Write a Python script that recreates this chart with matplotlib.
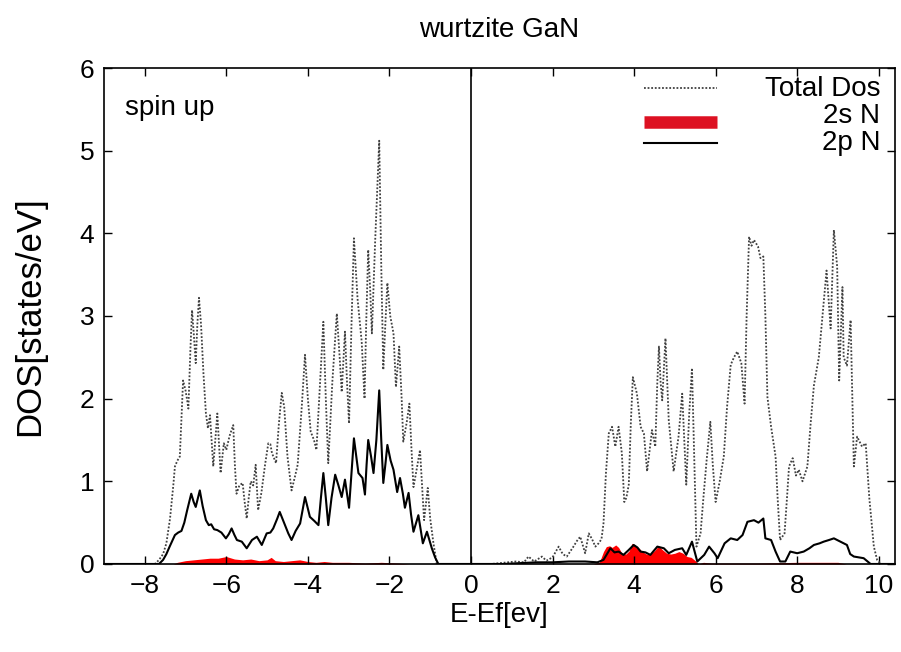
import matplotlib
matplotlib.use("Agg")
import matplotlib.pyplot as plt

plt.rcParams['font.family'] = ['Liberation Sans', 'DejaVu Sans']

# total DOS (energy in eV, states/eV)
e_total = [-9.0, -7.75, -7.65, -7.55, -7.47, -7.38, -7.30, -7.26, -7.20, -7.14,
           -7.10, -7.06, -7.00, -6.96, -6.93, -6.88, -6.84, -6.80, -6.75, -6.71,
           -6.67, -6.62, -6.56, -6.50, -6.45, -6.40, -6.36, -6.32, -6.27, -6.22,
           -6.18, -6.14, -6.06, -6.00, -5.92, -5.83, -5.79, -5.75, -5.68, -5.60,
           -5.55, -5.50, -5.45, -5.40, -5.34, -5.28, -5.22, -5.14, -5.05, -4.97,
           -4.92, -4.88, -4.78, -4.71, -4.64, -4.58, -4.50, -4.40, -4.32, -4.25,
           -4.15, -4.07, -4.00, -3.93, -3.85, -3.79, -3.70, -3.62, -3.56, -3.50,
           -3.40, -3.29, -3.22, -3.17, -3.09, -3.04, -2.99, -2.93, -2.87, -2.78,
           -2.68, -2.61, -2.57, -2.52, -2.47, -2.43, -2.35, -2.25, -2.20, -2.15,
           -2.10, -2.05, -1.98, -1.90, -1.84, -1.76, -1.70, -1.66, -1.58, -1.51,
           -1.46, -1.41, -1.33, -1.25, -1.20, -1.15, -1.06, -1.00, -0.92, -0.84,
           0.0, 0.5, 0.9, 1.1, 1.3, 1.41, 1.55, 1.74, 1.85, 2.0,
           2.15, 2.25, 2.35, 2.5, 2.6, 2.68, 2.80, 2.89, 2.97, 3.05,
           3.13, 3.20, 3.25, 3.31, 3.38, 3.46, 3.54, 3.62, 3.70, 3.76,
           3.81, 3.87, 3.92, 3.97, 4.07, 4.16, 4.24, 4.32, 4.44, 4.52,
           4.57, 4.61, 4.65, 4.69, 4.77, 4.85, 4.97, 5.09, 5.18, 5.28,
           5.35, 5.42, 5.48, 5.53, 5.63, 5.70, 5.78, 5.87, 5.93, 6.00,
           6.10, 6.20, 6.28, 6.37, 6.45, 6.53, 6.63, 6.71, 6.76, 6.82,
           6.88, 6.94, 7.04, 7.10, 7.17, 7.22, 7.27, 7.36, 7.47, 7.52,
           7.58, 7.69, 7.75, 7.80, 7.89, 7.97, 8.04, 8.13, 8.25, 8.33,
           8.41, 8.53, 8.62, 8.72, 8.77, 8.82, 8.90, 8.98, 9.03, 9.11,
           9.14, 9.22, 9.31, 9.39, 9.47, 9.59, 9.68, 9.77, 9.88, 9.96,
           10.05, 10.4]
dos_total = [0.0, 0.0, 0.05, 0.12, 0.25, 0.55, 0.95, 1.18, 1.25, 1.30,
             1.75, 2.22, 2.10, 1.98, 1.88, 2.6, 3.07, 2.8, 2.43, 2.9,
             3.22, 2.9, 2.3, 1.82, 1.64, 1.80, 1.5, 1.18, 1.5, 1.82,
             1.45, 1.10, 1.46, 1.38, 1.55, 1.68, 1.2, 0.85, 0.95, 0.98,
             0.75, 0.55, 0.8, 1.00, 0.95, 1.20, 0.65, 0.86, 1.2, 1.46,
             1.45, 1.34, 1.22, 1.7, 2.07, 1.9, 1.3, 0.89, 1.05, 1.2,
             1.9, 2.53, 2.0, 1.6, 1.5, 1.38, 2.2, 2.93, 2.0, 1.22,
             2.2, 3.03, 2.5, 2.08, 2.81, 2.2, 1.70, 2.9, 3.94, 3.2,
             2.69, 2.00, 2.9, 3.80, 3.3, 2.79, 3.9, 5.12, 3.6, 2.35,
             2.9, 3.40, 3.0, 2.79, 2.14, 2.63, 2.0, 1.48, 1.7, 1.94,
             1.4, 0.93, 1.15, 1.38, 0.95, 0.53, 0.92, 0.55, 0.25, 0.0,
             0.0, 0.0, 0.02, 0.03, 0.02, 0.09, 0.03, 0.09, 0.04, 0.08,
             0.21, 0.12, 0.09, 0.2, 0.28, 0.33, 0.13, 0.37, 0.3, 0.21,
             0.25, 0.3, 0.49, 1.1, 1.58, 1.66, 1.42, 1.66, 1.34, 0.75,
             0.8, 0.96, 1.7, 2.26, 2.06, 1.66, 1.58, 1.12, 1.62, 1.42,
             2.2, 2.63, 2.2, 1.98, 2.73, 1.74, 1.12, 1.54, 2.06, 0.96,
             1.8, 2.37, 1.2, 0.21, 0.37, 0.8, 1.26, 1.72, 1.2, 0.75,
             1.0, 1.30, 1.9, 2.41, 2.5, 2.57, 2.43, 1.94, 3.0, 3.96,
             3.85, 3.92, 3.84, 3.7, 3.72, 3.0, 2.02, 1.66, 1.30, 0.8,
             0.29, 0.37, 0.8, 1.18, 1.28, 1.07, 1.14, 1.00, 1.18, 1.7,
             2.16, 2.5, 3.0, 3.55, 3.2, 2.85, 4.04, 3.6, 2.22, 3.35,
             2.5, 2.4, 2.95, 1.18, 1.54, 1.42, 1.46, 0.79, 0.21, 0.05,
             0.0, 0.0]

# N 2p partial DOS
e_2p = [-9.0, -7.65, -7.55, -7.47, -7.39, -7.26, -7.18, -7.10, -7.03, -6.96,
        -6.86, -6.80, -6.75, -6.65, -6.58, -6.50, -6.43, -6.37, -6.30, -6.22,
        -6.12, -6.01, -5.94, -5.87, -5.80, -5.74, -5.62, -5.50, -5.37, -5.25,
        -5.13, -5.01, -4.92, -4.85, -4.75, -4.69, -4.57, -4.48, -4.40, -4.30,
        -4.19, -4.07, -3.95, -3.84, -3.74, -3.68, -3.62, -3.56, -3.50, -3.42,
        -3.33, -3.25, -3.17, -3.09, -3.04, -2.99, -2.93, -2.87, -2.80, -2.76,
        -2.66, -2.60, -2.56, -2.52, -2.45, -2.39, -2.32, -2.25, -2.20, -2.15,
        -2.10, -2.05, -1.97, -1.90, -1.81, -1.74, -1.67, -1.62, -1.53, -1.47,
        -1.41, -1.29, -1.18, -1.08, -0.96, -0.88, -0.80,
        0.0, 0.8, 1.2, 1.6, 2.0, 2.4, 2.8, 3.1, 3.25, 3.42,
        3.52, 3.62, 3.74, 3.87, 3.99, 4.08, 4.16, 4.28, 4.40, 4.57,
        4.73, 4.85, 5.0, 5.18, 5.28, 5.42, 5.55, 5.72, 5.84, 5.97,
        6.05, 6.22, 6.37, 6.53, 6.66, 6.78, 6.94, 7.05, 7.17, 7.22,
        7.36, 7.47, 7.58, 7.71, 7.83, 8.0, 8.16, 8.30, 8.41, 8.55,
        8.65, 8.78, 8.90, 9.06, 9.22, 9.30, 9.39, 9.63, 9.80, 10.4]
dos_2p = [0.0, 0.0, 0.05, 0.12, 0.21, 0.35, 0.38, 0.40, 0.5, 0.65,
          0.85, 0.75, 0.69, 0.89, 0.7, 0.53, 0.47, 0.48, 0.42, 0.41,
          0.38, 0.31, 0.36, 0.43, 0.35, 0.29, 0.27, 0.19, 0.29, 0.33,
          0.23, 0.37, 0.38, 0.43, 0.55, 0.63, 0.48, 0.37, 0.29, 0.4,
          0.49, 0.81, 0.57, 0.52, 0.47, 0.8, 1.10, 0.8, 0.47, 0.8,
          1.08, 0.95, 0.81, 1.02, 0.85, 0.68, 1.1, 1.52, 1.25, 1.10,
          1.04, 0.84, 1.2, 1.50, 1.3, 1.10, 1.5, 2.10, 1.5, 0.98,
          1.2, 1.44, 1.25, 1.14, 0.87, 1.04, 0.85, 0.68, 0.86, 0.6,
          0.39, 0.59, 0.25, 0.39, 0.19, 0.08, 0.0,
          0.0, 0.0, 0.01, 0.02, 0.02, 0.03, 0.03, 0.02, 0.05, 0.19,
          0.14, 0.15, 0.11, 0.17, 0.23, 0.2, 0.15, 0.14, 0.11, 0.21,
          0.19, 0.13, 0.17, 0.19, 0.11, 0.27, 0.03, 0.11, 0.21, 0.13,
          0.07, 0.25, 0.31, 0.29, 0.35, 0.51, 0.53, 0.50, 0.55, 0.31,
          0.29, 0.15, 0.03, 0.03, 0.15, 0.13, 0.15, 0.19, 0.23, 0.25,
          0.27, 0.29, 0.31, 0.27, 0.23, 0.12, 0.09, 0.07, 0.0, 0.0]

# N 2s partial DOS
e_2s = [-9.0, -7.3, -7.2, -7.0, -6.8, -6.6, -6.4, -6.2, -6.0, -5.8,
        -5.6, -5.4, -5.2, -5.0, -4.9, -4.8, -4.6, -4.4, -4.2, -4.0,
        -3.8, -3.6, -3.4, -3.0, -2.6, -2.2, -1.8, -1.5,
        0.0, 3.0, 3.15, 3.25, 3.32, 3.4, 3.46, 3.55, 3.62, 3.7,
        3.8, 3.88, 3.95, 4.02, 4.1, 4.2, 4.3, 4.4, 4.5, 4.6,
        4.7, 4.8, 4.9, 5.0, 5.1, 5.2, 5.3, 5.4, 5.5, 5.58,
        5.7, 5.9, 6.4, 7.0, 8.0, 9.0, 9.2, 10.4]
dos_2s = [0.0, 0.0, 0.02, 0.04, 0.05, 0.06, 0.07, 0.07, 0.09, 0.06,
          0.05, 0.06, 0.04, 0.05, 0.08, 0.04, 0.03, 0.04, 0.05, 0.03,
          0.02, 0.03, 0.02, 0.02, 0.01, 0.02, 0.01, 0.0,
          0.0, 0.0, 0.02, 0.15, 0.21, 0.22, 0.2, 0.23, 0.2, 0.13,
          0.12, 0.16, 0.25, 0.23, 0.2, 0.15, 0.12, 0.12, 0.16, 0.22,
          0.17, 0.13, 0.12, 0.13, 0.15, 0.13, 0.09, 0.08, 0.04, 0.0,
          0.02, 0.01, 0.01, 0.01, 0.02, 0.02, 0.0, 0.0]

fig = plt.figure(figsize=(9.01, 6.52), dpi=100)
ax = fig.add_axes([0.1154, 0.135, 0.878, 0.7607])

ax.plot(e_total, dos_total, color='#404040', lw=1.3, ls=(0, (1, 1)))
ax.fill_between(e_2s, dos_2s, 0, color='red', lw=0)
ax.plot(e_2p, dos_2p, color='black', lw=1.5)
ax.axvline(0, color='black', lw=1.2)

ax.set_xlim(-9, 10.4)
ax.set_ylim(0, 6)
ax.set_xticks(range(-8, 11, 2))
ax.set_yticks(range(0, 7))
ax.tick_params(direction='in', top=True, right=True, length=6, width=1,
               labelsize=19, pad=7)
for s in ax.spines.values():
    s.set_linewidth(1.2)

ax.set_title('wurtzite GaN', fontsize=20, pad=22)
ax.set_xlabel('E-Ef[ev]', fontsize=20, labelpad=3)
ax.set_ylabel('DOS[states/eV]', fontsize=25, labelpad=24)

ax.text(0.027, 0.92, 'spin up', transform=ax.transAxes, fontsize=20,
        va='center', ha='left')

# legend, gnuplot style: sample on the left, right-aligned label
leg_x0, leg_x1, leg_tx = 0.683, 0.775, 0.981
ax.plot([leg_x0, leg_x1], [0.960, 0.960], transform=ax.transAxes,
        color='#404040', lw=1.3, ls=(0, (1, 1)))
ax.plot([leg_x0, leg_x1], [0.891, 0.891], transform=ax.transAxes,
        color='#dd1122', lw=9, solid_capstyle='butt')
ax.plot([leg_x0, leg_x1], [0.849, 0.849], transform=ax.transAxes,
        color='black', lw=1.5)
ax.text(leg_tx, 0.958, 'Total Dos', transform=ax.transAxes, fontsize=20,
        ha='right', va='center')
ax.text(leg_tx, 0.903, '2s N', transform=ax.transAxes, fontsize=20,
        ha='right', va='center')
ax.text(leg_tx, 0.848, '2p N', transform=ax.transAxes, fontsize=20,
        ha='right', va='center')

fig.savefig('out.png', dpi=100)
